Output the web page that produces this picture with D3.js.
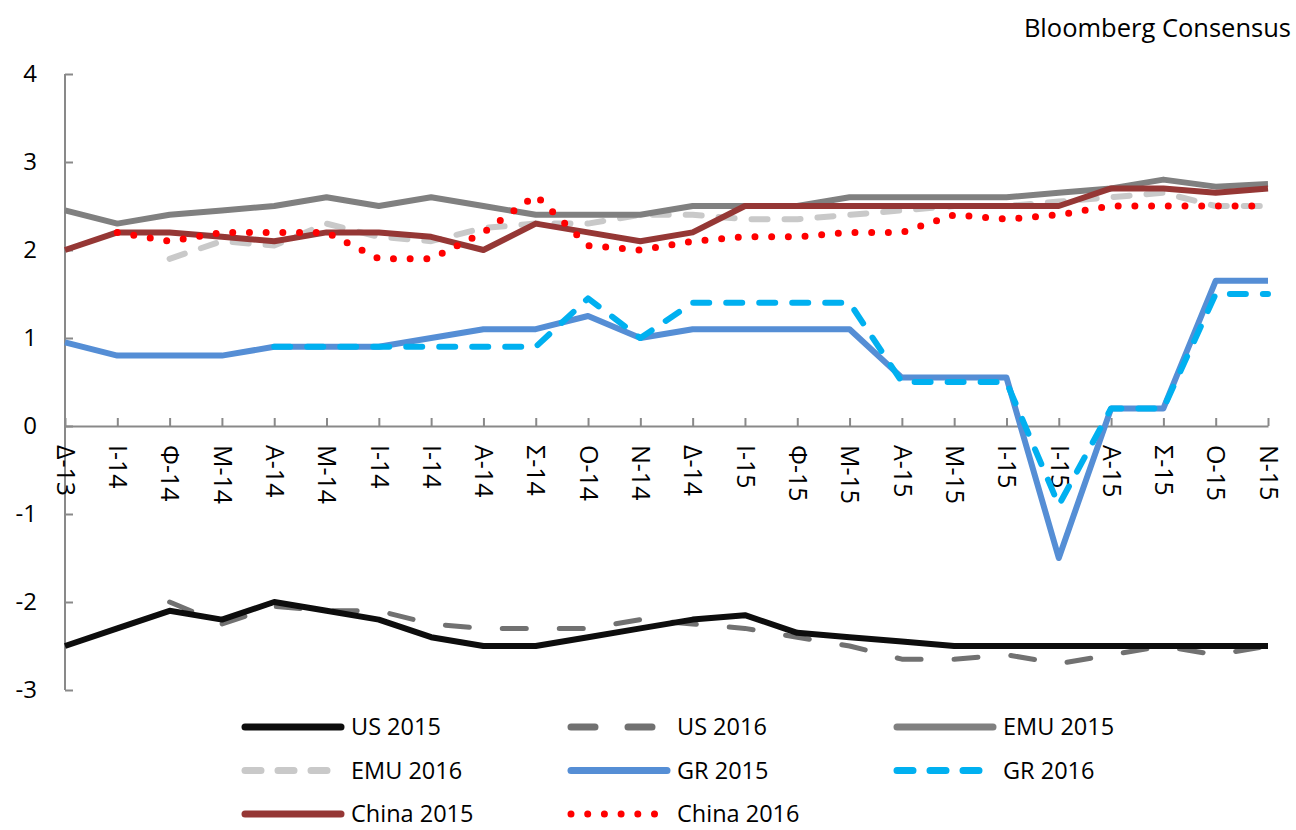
<!doctype html>
<html>
<head>
<meta charset="utf-8">
<title>Bloomberg Consensus</title>
<script src="https://cdn.jsdelivr.net/npm/d3@7"></script>
<style>
body, html {
  margin: 0;
  width: 100%;
  height: 100%;
  background: #fff;
}
svg text {
  font-family: "Open Sans", "Noto Sans", sans-serif;
  fill: #000;
}
</style>
</head>
<body>
<svg id="chart" width="1296" height="830"></svg>
<script>
// month labels (greek initials)
var months = ["Δ-13","Ι-14","Φ-14","Μ-14","Α-14","Μ-14","Ι-14","Ι-14","Α-14","Σ-14","Ο-14","Ν-14",
              "Δ-14","Ι-15","Φ-15","Μ-15","Α-15","Μ-15","Ι-15","Ι-15","Α-15","Σ-15","Ο-15","Ν-15"];
var yTicks = [-3,-2,-1,0,1,2,3,4];

// series, one value per month (null = no value)
var us2015 = [-2.5,-2.3,-2.1,-2.2,-2.0,-2.1,-2.2,-2.4,-2.5,-2.5,-2.4,-2.3,
              -2.2,-2.15,-2.35,-2.4,-2.45,-2.5,-2.5,-2.5,-2.5,-2.5,-2.5,-2.5];
var us2016 = [null,null,-2.0,-2.25,-2.05,-2.1,-2.1,-2.25,-2.3,-2.3,-2.3,-2.2,
              -2.25,-2.3,-2.4,-2.5,-2.65,-2.65,-2.6,-2.7,-2.6,-2.5,-2.6,-2.5];
var emu2015 = [2.45,2.3,2.4,2.45,2.5,2.6,2.5,2.6,2.5,2.4,2.4,2.4,
               2.5,2.5,2.5,2.6,2.6,2.6,2.6,2.65,2.7,2.8,2.72,2.75];
var emu2016 = [null,null,1.9,2.1,2.05,2.3,2.15,2.1,2.25,2.3,2.3,2.4,
               2.4,2.35,2.35,2.4,2.45,2.5,2.5,2.55,2.6,2.65,2.5,2.5];
var gr2015 = [0.95,0.8,0.8,0.8,0.9,0.9,0.9,1.0,1.1,1.1,1.25,1.0,
              1.1,1.1,1.1,1.1,0.55,0.55,0.55,-1.5,0.2,0.2,1.65,1.65];
var gr2016 = [null,null,null,null,0.9,0.9,0.9,0.9,0.9,0.9,1.45,1.0,
              1.4,1.4,1.4,1.4,0.5,0.5,0.5,-0.9,0.2,0.2,1.5,1.5];
var china2015 = [2.0,2.2,2.2,2.15,2.1,2.2,2.2,2.15,2.0,2.3,2.2,2.1,
                 2.2,2.5,2.5,2.5,2.5,2.5,2.5,2.5,2.7,2.7,2.65,2.7];
var china2016 = [null,2.2,2.1,2.2,2.2,2.2,1.9,1.9,2.2,2.62,2.05,2.0,
                 2.1,2.15,2.15,2.2,2.2,2.4,2.35,2.4,2.5,2.5,2.5,2.5];

var series = [
  {name: "US 2016",    values: us2016,    color: "#717171", width: 5, dash: "24,33"},
  {name: "US 2015",    values: us2015,    color: "#0d0d0d", width: 6, dash: null},
  {name: "EMU 2016",   values: emu2016,   color: "#c9c9c9", width: 6, dash: "16,17"},
  {name: "EMU 2015",   values: emu2015,   color: "#808080", width: 6, dash: null},
  {name: "GR 2015",    values: gr2015,    color: "#558ed5", width: 6, dash: null},
  {name: "GR 2016",    values: gr2016,    color: "#00b0f0", width: 6, dash: "16,17"},
  {name: "China 2015", values: china2015, color: "#953735", width: 6, dash: null},
  {name: "China 2016", values: china2016, color: "#ff0000", width: 7, dash: "0,16.7"}
];
var legendOrder = ["US 2015","US 2016","EMU 2015","EMU 2016","GR 2015","GR 2016","China 2015","China 2016"];

var svg = d3.select("#chart");
var plotLeft = 65, plotRight = 1268, plotTop = 74, plotBottom = 690;

var x = d3.scalePoint().domain(d3.range(months.length)).range([plotLeft, plotRight]);
var y = d3.scaleLinear().domain([-3, 4]).range([plotBottom, plotTop]);

// y axis
var yAxis = svg.append("g")
  .attr("transform", "translate(" + plotLeft + ",0)")
  .call(d3.axisLeft(y).tickValues(yTicks).tickFormat(function(d) { return String(d); })
        .tickSizeInner(-8).tickSizeOuter(0).tickPadding(28));
yAxis.selectAll("line, path").attr("stroke", "#898989").attr("stroke-width", 2);
yAxis.selectAll("text").style("font-size", "24px");
yAxis.select(".domain").attr("d", "M0," + plotTop + "V" + plotBottom);

// x axis at zero
var xAxis = svg.append("g")
  .attr("transform", "translate(0," + y(0) + ")")
  .call(d3.axisBottom(x).tickFormat(function(i) { return months[i]; })
        .tickSizeInner(-8).tickSizeOuter(0));
xAxis.selectAll("line, path").attr("stroke", "#898989").attr("stroke-width", 2);
xAxis.selectAll("text")
  .attr("transform", "rotate(90)")
  .attr("x", 19).attr("y", 0).attr("dy", "0.35em")
  .style("text-anchor", "start")
  .style("font-size", "25px");

// lines
var line = d3.line()
  .defined(function(d) { return d != null; })
  .x(function(d, i) { return x(i); })
  .y(function(d) { return y(d); });

svg.append("g").selectAll("path.series")
  .data(series)
  .join("path")
  .attr("class", "series")
  .attr("d", function(s) { return line(s.values); })
  .attr("fill", "none")
  .attr("stroke", function(s) { return s.color; })
  .attr("stroke-width", function(s) { return s.width; })
  .attr("stroke-dasharray", function(s) { return s.dash; })
  .attr("stroke-linecap", function(s) { return s.dash ? "round" : "butt"; })
  .attr("stroke-linejoin", "round");

// title
svg.append("text")
  .attr("x", 1291).attr("y", 37)
  .style("text-anchor", "end")
  .style("font-size", "25.5px")
  .text("Bloomberg Consensus");

// legend
var items = svg.append("g").selectAll("g")
  .data(legendOrder.map(function(n) { return series.find(function(s) { return s.name === n; }); }))
  .join("g")
  .attr("transform", function(d, i) {
    return "translate(" + (245 + (i % 3) * 326) + "," + (727 + Math.floor(i / 3) * 43.5) + ")";
  });
items.append("line")
  .attr("x1", 0).attr("x2", 96)
  .attr("stroke", function(s) { return s.color; })
  .attr("stroke-width", 7)
  .attr("stroke-dasharray", function(s) { return s.dash; })
  .attr("stroke-linecap", "round");
items.append("text")
  .attr("x", 106)
  .attr("dy", "0.36em")
  .style("font-size", "23.5px")
  .text(function(s) { return s.name; });
</script>
</body>
</html>
